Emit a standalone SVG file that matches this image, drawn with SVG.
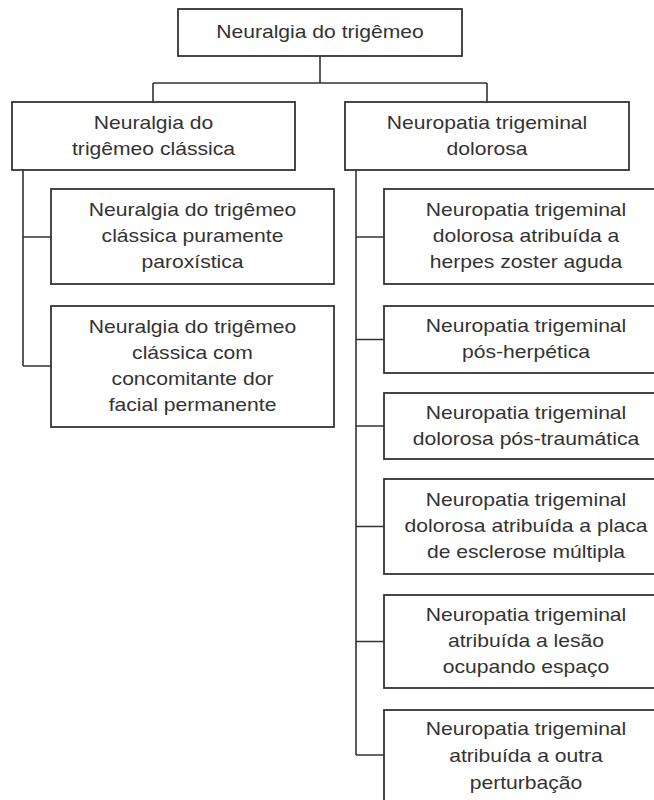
<svg xmlns="http://www.w3.org/2000/svg" width="654" height="800" viewBox="0 0 654 800">
<style>
.box{fill:#fff;stroke:#333;stroke-width:1.8}
.ln{fill:none;stroke:#333;stroke-width:1.6}
.t{font-family:"Liberation Sans",Arial,sans-serif;font-size:17.6px;fill:#333;text-anchor:middle}
</style>
<rect width="654" height="800" fill="#fff"/>
<g id="connectors">
<path class="ln" d="M320 56V83M153 83H487M153 83V102M487 83V102"/>
<path class="ln" d="M23 170V366M23 237H51M23 366H51"/>
<path class="ln" d="M356 170V755M356 237H384M356 339.5H384M356 426H384M356 526.5H384M356 641.5H384M356 755H384"/>
</g>
<g id="root">
<rect class="box" x="178" y="9" width="284" height="47"/>
<text class="t" transform="matrix(1.2 0 0 1 320 0)"><tspan x="0" y="38.5">Neuralgia do trigêmeo</tspan></text>
</g>
<g id="classica">
<rect class="box" x="12" y="102" width="283" height="68"/>
<text class="t" transform="matrix(1.2 0 0 1 153.5 0)"><tspan x="0" y="129">Neuralgia do</tspan><tspan x="0" y="155">trigêmeo clássica</tspan></text>
</g>
<g id="neuropatia">
<rect class="box" x="345" y="102" width="284" height="68"/>
<text class="t" transform="matrix(1.2 0 0 1 487 0)"><tspan x="0" y="129">Neuropatia trigeminal</tspan><tspan x="0" y="155">dolorosa</tspan></text>
</g>
<g id="paroxistica">
<rect class="box" x="51" y="189" width="283" height="95"/>
<text class="t" transform="matrix(1.2 0 0 1 192.5 0)"><tspan x="0" y="216.5">Neuralgia do trigêmeo</tspan><tspan x="0" y="242.5">clássica puramente</tspan><tspan x="0" y="268.5">paroxística</tspan></text>
</g>
<g id="permanente">
<rect class="box" x="51" y="306" width="283" height="121"/>
<text class="t" transform="matrix(1.2 0 0 1 192.5 0)"><tspan x="0" y="333.5">Neuralgia do trigêmeo</tspan><tspan x="0" y="359.5">clássica com</tspan><tspan x="0" y="385.5">concomitante dor</tspan><tspan x="0" y="411.5">facial permanente</tspan></text>
</g>
<g id="herpes">
<rect class="box" x="384" y="189" width="284" height="95"/>
<text class="t" transform="matrix(1.2 0 0 1 526 0)"><tspan x="0" y="216.5">Neuropatia trigeminal</tspan><tspan x="0" y="242.5">dolorosa atribuída a</tspan><tspan x="0" y="268.5">herpes zoster aguda</tspan></text>
</g>
<g id="posherpetica">
<rect class="box" x="384" y="306" width="284" height="67"/>
<text class="t" transform="matrix(1.2 0 0 1 526 0)"><tspan x="0" y="332.5">Neuropatia trigeminal</tspan><tspan x="0" y="358.5">pós-herpética</tspan></text>
</g>
<g id="postraumatica">
<rect class="box" x="384" y="393" width="284" height="66"/>
<text class="t" transform="matrix(1.2 0 0 1 526 0)"><tspan x="0" y="419">Neuropatia trigeminal</tspan><tspan x="0" y="445">dolorosa pós-traumática</tspan></text>
</g>
<g id="esclerose">
<rect class="box" x="384" y="479" width="284" height="95"/>
<text class="t" transform="matrix(1.2 0 0 1 526 0)"><tspan x="0" y="506.5">Neuropatia trigeminal</tspan><tspan x="0" y="532.5">dolorosa atribuída a placa</tspan><tspan x="0" y="558.5">de esclerose múltipla</tspan></text>
</g>
<g id="lesao">
<rect class="box" x="384" y="595" width="284" height="93"/>
<text class="t" transform="matrix(1.2 0 0 1 526 0)"><tspan x="0" y="621.5">Neuropatia trigeminal</tspan><tspan x="0" y="647.5">atribuída a lesão</tspan><tspan x="0" y="673.5">ocupando espaço</tspan></text>
</g>
<g id="outra">
<rect class="box" x="384" y="710" width="284" height="94"/>
<text class="t" transform="matrix(1.2 0 0 1 526 0)"><tspan x="0" y="735">Neuropatia trigeminal</tspan><tspan x="0" y="762">atribuída a outra</tspan><tspan x="0" y="789">perturbação</tspan></text>
</g>
</svg>
